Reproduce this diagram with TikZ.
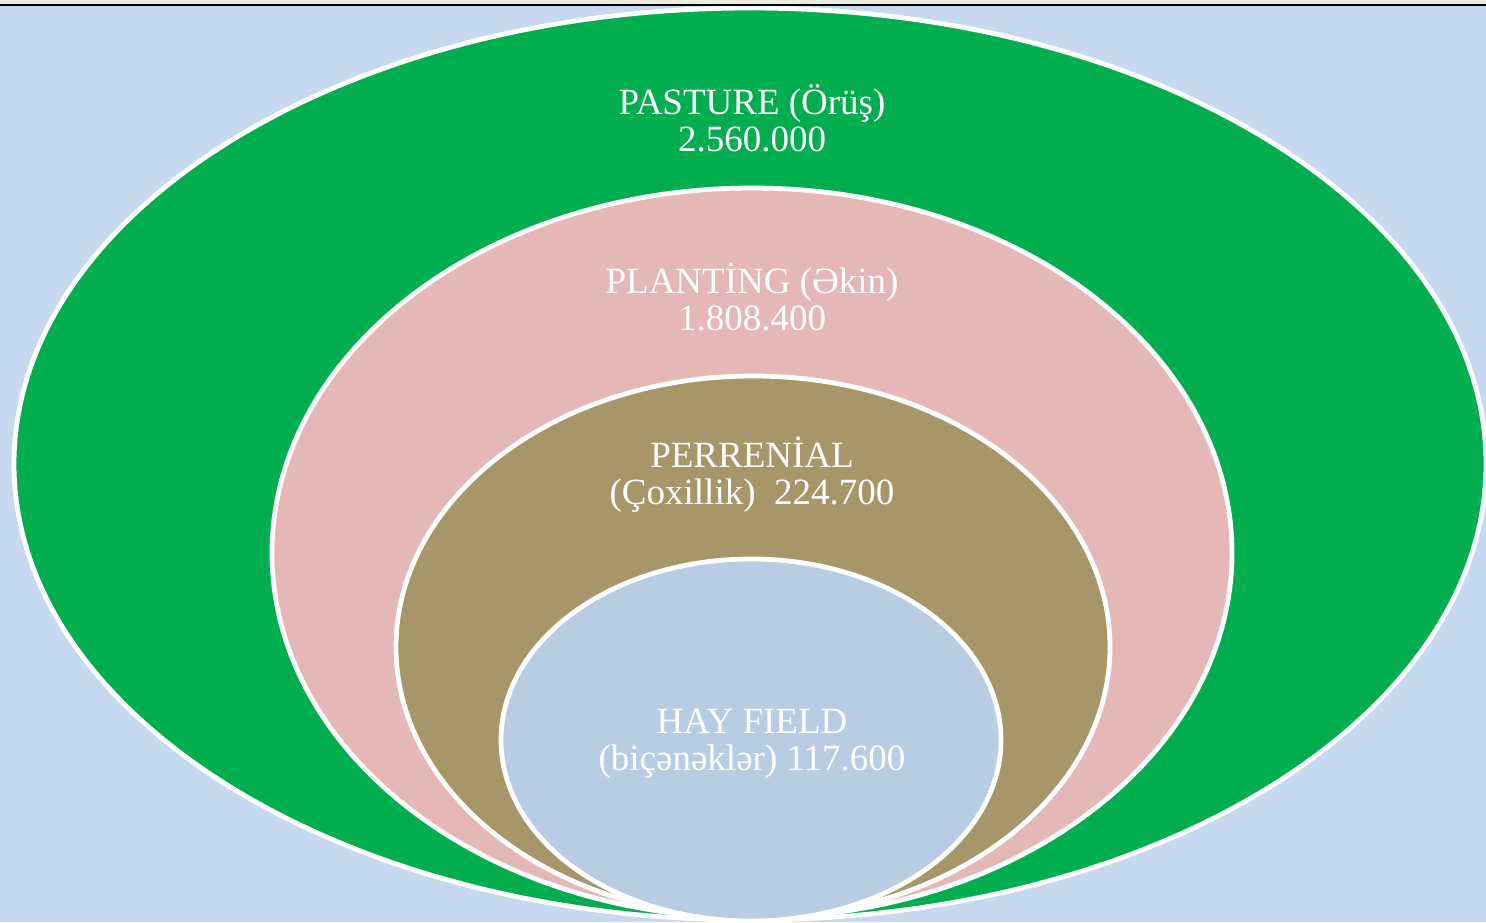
\documentclass[tikz,border=0pt]{standalone}
\usepackage{fontspec}
\setmainfont{Liberation Serif}
\usepackage{xcolor}
\definecolor{skyback}{HTML}{C6D9F0}
\definecolor{paper}{HTML}{EEEBE0}
\definecolor{pasture}{HTML}{00AE4F}
\definecolor{planting}{HTML}{E5B8B7}
\definecolor{perennial}{HTML}{A69669}
\definecolor{hayfield}{HTML}{B8CCE4}

\begin{document}
\begin{tikzpicture}[x=0.5pt, y=-0.5pt,
    ring/.style={draw=white, line width=2.4pt},
    lbl/.style={text=white, align=center, font=\fontsize{18.5}{18.5}\selectfont}]
  \useasboundingbox (0,0) rectangle (1486,922);
  \fill[skyback] (0,0) rectangle (1486,922);
  \fill[paper] (0,0) rectangle (1486,5);
  \draw[line width=1pt] (0,5) -- (1486,5);
  \begin{scope}
    \clip (0,6) rectangle (1486,922);
    % nested fields, outer to inner
    \filldraw[ring, fill=pasture] (750,464) ellipse [x radius=736, y radius=456];
    \filldraw[ring, fill=planting] (752,553) ellipse [x radius=480, y radius=365];
    \filldraw[ring, fill=perennial] (753,647) ellipse [x radius=357, y radius=271];
    \filldraw[ring, fill=hayfield] (751,740) ellipse [x radius=250, y radius=181];
  \end{scope}
  \node[lbl] (pasture) at (752,118) {PASTURE (Örüş)\\2.560.000};
  \node[lbl] (planting) at (752,297) {PLANTİNG (Əkin)\\1.808.400};
  \node[lbl] (perennial) at (752,475) {PERRENİAL\\(Çoxillik)\ \ 224.700};
  \node[lbl] (hay) at (752,744) {HAY FIELD\\(biçənəklər) 117.600};
\end{tikzpicture}
\end{document}
